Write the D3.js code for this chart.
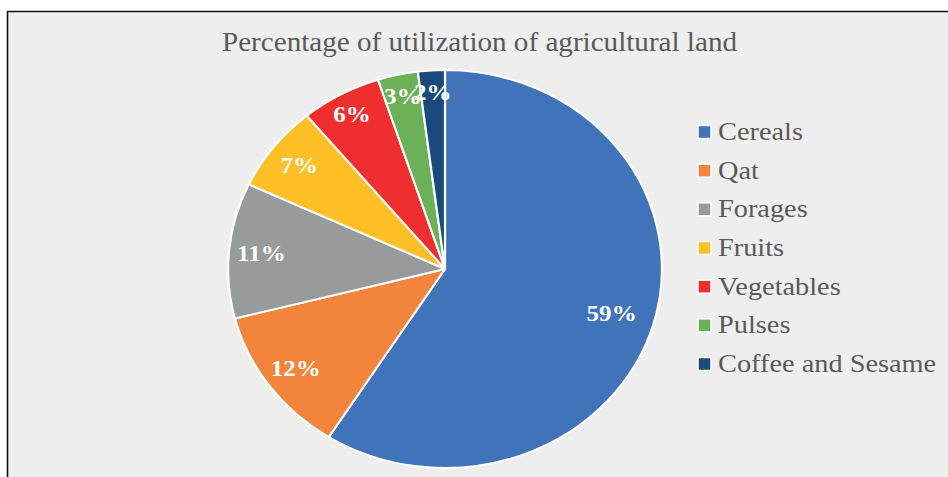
<!DOCTYPE html>
<html>
<head>
<meta charset="utf-8">
<script src="https://cdn.jsdelivr.net/npm/d3@7/dist/d3.min.js"></script>
<style>
  html, body { margin: 0; padding: 0; background: #ffffff; }
  svg { display: block; }
  svg text { font-family: "Liberation Serif", "Times New Roman", serif; }
</style>
</head>
<body>
<svg id="chart" width="948" height="477"></svg>
<script>
// Share of agricultural land by crop group (%)
const categories = ["Cereals", "Qat", "Forages", "Fruits", "Vegetables", "Pulses", "Coffee and Sesame"];
const shares = [59, 12, 11, 7, 6, 3, 2];
const colors = ["#4173BA", "#F2843B", "#989B9B", "#FEBF27", "#EE2E2F", "#6CB157", "#1A4A7C"];
const title = "Percentage of utilization of agricultural land";

const W = 948, H = 477;
const svg = d3.select("#chart");

// panel background and frame
svg.append("rect").attr("x", 7.5).attr("y", 11.5).attr("width", W).attr("height", H)
  .attr("fill", "#EEEEEE");
svg.append("path").attr("d", `M7.5,${H} V11.5 H${W}`)
  .attr("fill", "none").attr("stroke", "#111").attr("stroke-width", 1.6);

// title
svg.append("text")
  .attr("x", 222).attr("y", 51)
  .style("font-size", "27px")
  .attr("fill", "#595959")
  .attr("textLength", 515).attr("lengthAdjust", "spacingAndGlyphs")
  .text(title);

// pie (slightly wider than tall)
const cx = 445, cy = 269, R = 199, sx = 1.09;
const pie = d3.pie().sort(null).value(d => d);
const arcs = pie(shares);
const arc = d3.arc().innerRadius(0).outerRadius(R);
const color = d3.scaleOrdinal().domain(categories).range(colors);

// big slices keep their label deeper inside, thin slices push it outward
function labelRadius(d) {
  const span = d.endAngle - d.startAngle;
  if (span > Math.PI) return R * 0.8;
  if (span < 0.4) return R * 0.89;
  return R * 0.85;
}
function labelPos(d) {
  const r = labelRadius(d);
  return d3.arc().innerRadius(r).outerRadius(r).centroid(d);
}

const pieG = svg.append("g").attr("transform", `translate(${cx},${cy}) scale(${sx},1)`);
pieG.selectAll("path.slice")
  .data(arcs)
  .join("path")
  .attr("class", "slice")
  .attr("d", arc)
  .attr("fill", (d, i) => color(categories[i]))
  .attr("stroke", "#ffffff")
  .attr("stroke-width", 2)
  .attr("stroke-linejoin", "round");

// value labels
svg.selectAll("g.lbl")
  .data(arcs)
  .join("g")
  .attr("class", "lbl")
  .attr("transform", d => {
    const [x, y] = labelPos(d);
    return `translate(${cx + x * sx},${cy + y}) scale(${sx},1)`;
  })
  .append("text")
  .attr("text-anchor", "middle")
  .attr("dy", "0.35em")
  .style("font-weight", "bold")
  .style("font-size", "23px")
  .attr("fill", "#ffffff")
  .text(d => d.data + "%");

// legend
const legendY = d3.scalePoint().domain(categories).range([132, 364]);
const lg = svg.selectAll("g.leg")
  .data(categories)
  .join("g")
  .attr("class", "leg")
  .attr("transform", d => `translate(698,${legendY(d)})`);
lg.append("rect")
  .attr("x", 0).attr("y", -6.5).attr("width", 13).attr("height", 13)
  .attr("fill", d => color(d))
  .attr("stroke", "#ffffff").attr("stroke-width", 1.5);
lg.append("text")
  .attr("transform", `translate(20,8) scale(${sx},1)`)
  .style("font-size", "26px")
  .attr("fill", "#595959")
  .text(d => d);
</script>
</body>
</html>
